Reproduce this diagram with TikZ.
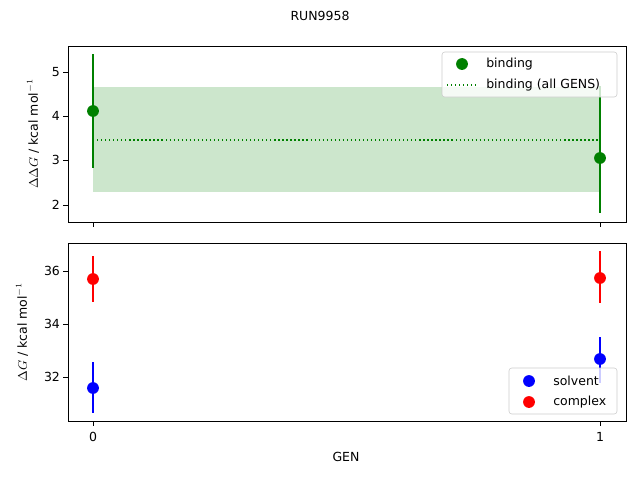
\documentclass[tikz,border=0pt]{standalone}
\usepackage{fontspec}
\setmainfont{DejaVu Sans}
\definecolor{mgreen}{RGB}{0,128,0}
\tikzset{
  dot/.style={circle,fill=#1,inner sep=0pt,minimum size=8.5},
  errbar/.style={#1,line width=1.1pt},
  ytick/.style={left,inner sep=2pt,font=\small},
  legendbox/.style={draw=black!20,fill=white,fill opacity=0.8,text opacity=1,rounded corners=2pt},
}
\begin{document}
\begin{tikzpicture}[x=0.72pt,y=-0.72pt,font=\small]
\useasboundingbox (0,0) rectangle (640,480);
\node (title) at (320,16) {RUN9958};
% top panel
\fill[mgreen,opacity=0.2] (93,87) rectangle (600,192);
\draw[mgreen,dotted,line width=0.9pt] (93,140) -- (600,140);
\draw[errbar=mgreen] (93,54) -- (93,168);
\draw[errbar=mgreen] (600,86) -- (600,213);
\node[dot=mgreen] (b0) at (93,111) {};
\node[dot=mgreen] (b1) at (600,158) {};
\draw (68,46) rectangle (626,222);
\foreach \v/\y in {5/72,4/116,3/160,2/205}
  {\draw (68,\y) -- (63,\y); \node[ytick] at (63,\y) {\v};}
\foreach \x in {93,600} \draw (\x,222) -- (\x,227);
\node[rotate=90] (ylabtop) at (33,134) {$\Delta\Delta G$ / kcal mol$^{-1}$};
\draw[legendbox] (442,52) rectangle (617,97);
\node[dot=mgreen] (lg1) at (462,64) {};
\node[right,inner sep=0pt] at (486,64) {binding};
\draw[mgreen,dotted,line width=0.9pt] (447,85) -- (477,85);
\node[right,inner sep=0pt] at (486,85) {binding (all GENS)};
% bottom panel
\draw[errbar=red] (93,256) -- (93,302);
\draw[errbar=red] (600,251) -- (600,303);
\draw[errbar=blue] (93,362) -- (93,413);
\draw[errbar=blue] (600,337) -- (600,383);
\node[dot=red] (c0) at (93,279) {};
\node[dot=red] (c1) at (600,278) {};
\node[dot=blue] (s0) at (93,388) {};
\node[dot=blue] (s1) at (600,359) {};
\draw (68,243) rectangle (626,421);
\foreach \v/\y in {36/271,34/324,32/377}
  {\draw (68,\y) -- (63,\y); \node[ytick] at (63,\y) {\v};}
\foreach \v/\x in {0/93,1/600}
  {\draw (\x,421) -- (\x,426); \node at (\x,437) {\v};}
\node (xlab) at (346,457) {GEN};
\node[rotate=90] (ylabbot) at (22,332) {$\Delta G$ / kcal mol$^{-1}$};
\draw[legendbox] (509,368) rectangle (617,414);
\node[dot=blue] (lg2) at (529,381) {};
\node[right,inner sep=0pt] at (553,381) {solvent};
\node[dot=red] (lg3) at (529,402) {};
\node[right,inner sep=0pt] at (553,402) {complex};
\end{tikzpicture}
\end{document}
